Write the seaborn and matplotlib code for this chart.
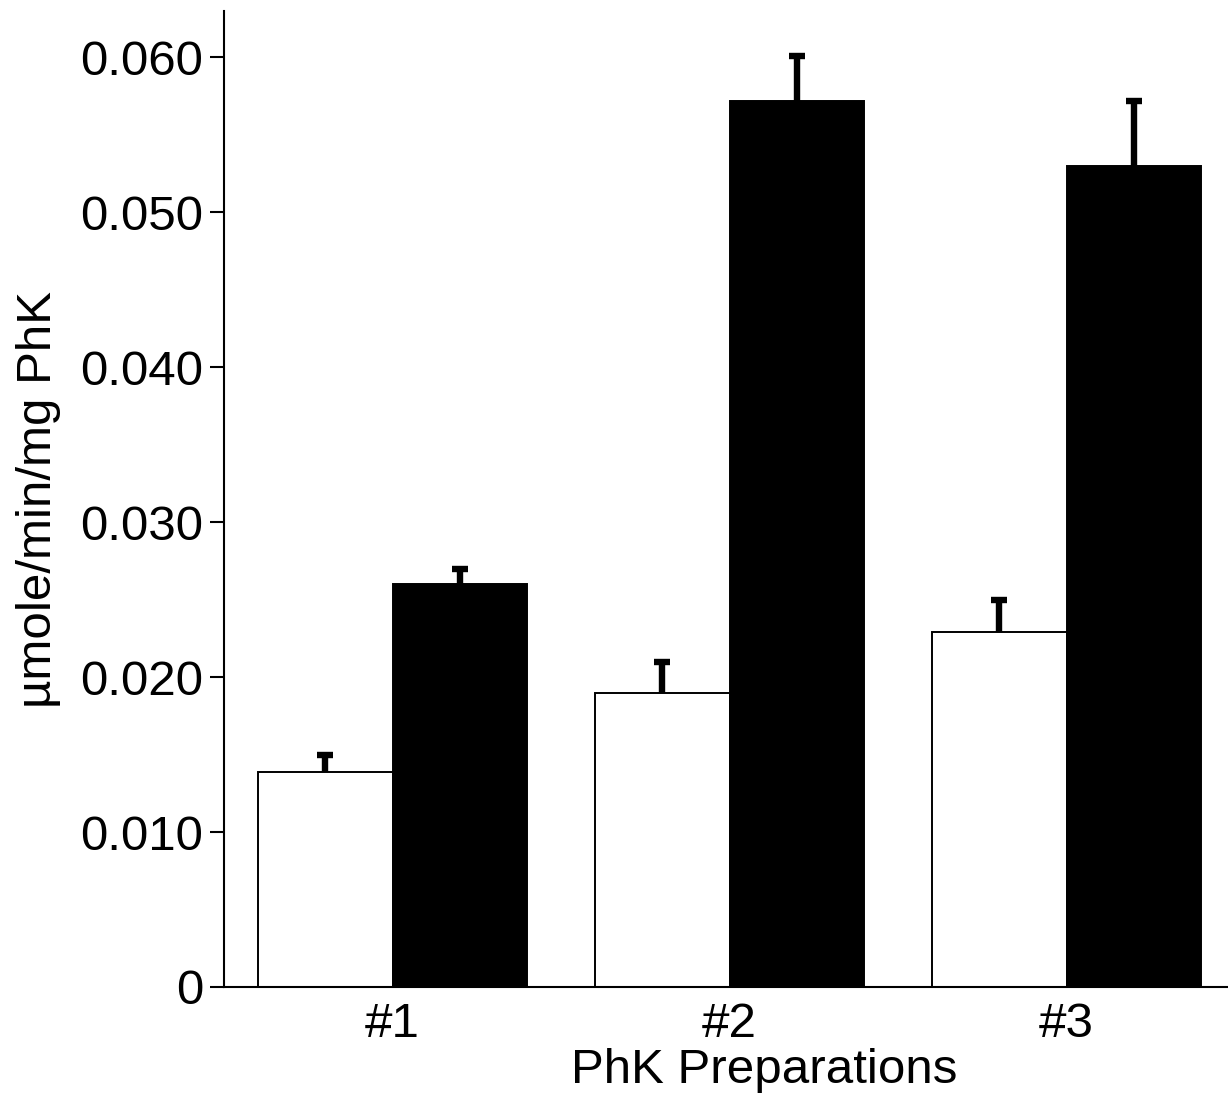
"""
Bar chart of PhK activity for three preparations (two conditions each)
"""

import matplotlib
matplotlib.use("Agg")
import matplotlib.pyplot as plt
import pandas as pd
import seaborn as sns

# Data
preparations = ["#1", "#2", "#3"]
conditions = ["open", "filled"]
open_values = [0.0139, 0.0190, 0.0229]
filled_values = [0.0260, 0.0572, 0.0530]
open_errors = [0.0011, 0.0020, 0.0021]
filled_errors = [0.0010, 0.0029, 0.0042]

y_ticks = [0.0, 0.010, 0.020, 0.030, 0.040, 0.050, 0.060]
y_tick_labels = ["0", "0.010", "0.020", "0.030", "0.040", "0.050", "0.060"]

x_label = "PhK Preparations"
y_label = "\u00b5mole/min/mg PhK"


def build_frame():
    """Long-form table for seaborn"""
    rows = []
    for prep, v in zip(preparations, open_values):
        rows.append({"prep": prep, "cond": conditions[0], "value": v})
    for prep, v in zip(preparations, filled_values):
        rows.append({"prep": prep, "cond": conditions[1], "value": v})
    return pd.DataFrame(rows)


def main():
    sns.set_theme(style="ticks")
    plt.rcParams["font.family"] = ["Liberation Sans", "DejaVu Sans"]
    for key in ["text.color", "axes.labelcolor", "xtick.color", "ytick.color",
                "axes.edgecolor"]:
        plt.rcParams[key] = "black"

    fig = plt.figure(figsize=(12.28, 10.93), dpi=100)
    ax = fig.add_axes([224 / 1228, 1 - 987 / 1093, 1011 / 1228, 976 / 1093])

    df = build_frame()
    sns.barplot(
        data=df, x="prep", y="value", hue="cond",
        order=preparations, hue_order=conditions,
        palette=["white", "black"], edgecolor="black", linewidth=1.4,
        width=0.8, errorbar=None, legend=False, ax=ax,
    )

    # upper-only error bars on each bar
    for container, errs in zip(ax.containers, [open_errors, filled_errors]):
        for bar, err in zip(container, errs):
            x = bar.get_x() + bar.get_width() / 2
            y = bar.get_height()
            _, caps, _ = ax.errorbar(x, y, yerr=[[0], [err]], fmt="none",
                                     ecolor="black", elinewidth=4.6,
                                     capsize=6, capthick=4.6, zorder=3)
            # hide the cap sitting on the bar top
            for cap in caps:
                if abs(cap.get_ydata()[0] - y) < 1e-9:
                    cap.set_visible(False)

    ax.set_xlim(-0.5, 2.5)
    ax.set_ylim(0, 0.063)
    ax.set_yticks(y_ticks)
    ax.set_yticklabels(y_tick_labels)

    ax.set_xlabel(x_label, fontsize=35.5, labelpad=2)
    ax.set_ylabel(y_label, fontsize=35.5, labelpad=14)
    ax.xaxis.set_label_coords(0.534, -0.062)

    ax.tick_params(axis="y", labelsize=35.5, length=10, width=1.5,
                   direction="out", pad=5)
    ax.tick_params(axis="x", labelsize=35.5, length=0, pad=11)

    sns.despine(ax=ax, top=True, right=True)
    for side in ["left", "bottom"]:
        ax.spines[side].set_linewidth(1.5)

    fig.savefig("out.png", dpi=100)
    plt.close(fig)


if __name__ == "__main__":
    main()
